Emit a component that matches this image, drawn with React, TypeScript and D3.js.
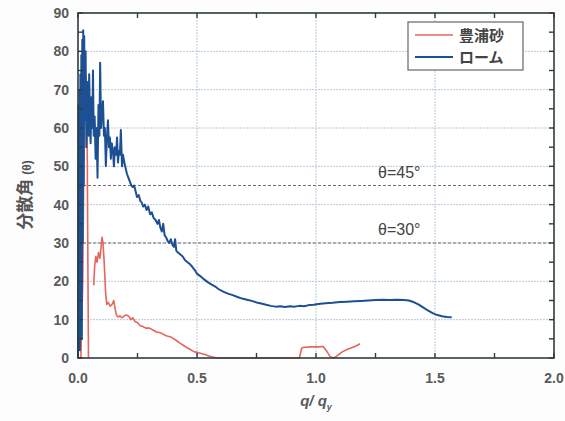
import React from "react";
import * as d3 from "d3";

const loamX = [0, 0.002, 0.004, 0.006, 0.008, 0.010, 0.012, 0.014, 0.016, 0.018, 0.020, 0.022, 0.024, 0.026, 0.029, 0.032, 0.035, 0.038, 0.041, 0.044, 0.047, 0.050, 0.053, 0.056, 0.060, 0.063, 0.066, 0.070, 0.074, 0.078, 0.082, 0.086, 0.090, 0.093, 0.097, 0.101, 0.105, 0.109, 0.113, 0.117, 0.121, 0.126, 0.130, 0.134, 0.138, 0.142, 0.147, 0.151, 0.155, 0.160, 0.164, 0.168, 0.172, 0.176, 0.180, 0.185, 0.189, 0.193, 0.198, 0.202, 0.206, 0.212, 0.218, 0.224, 0.230, 0.236, 0.242, 0.248, 0.255, 0.262, 0.268, 0.274, 0.281, 0.288, 0.295, 0.303, 0.310, 0.318, 0.326, 0.334, 0.340, 0.346, 0.352, 0.358, 0.364, 0.370, 0.377, 0.383, 0.390, 0.397, 0.403, 0.408, 0.413, 0.420, 0.430, 0.440, 0.450, 0.460, 0.470, 0.480, 0.490, 0.500, 0.515, 0.530, 0.545, 0.560, 0.575, 0.590, 0.610, 0.630, 0.650, 0.670, 0.690, 0.710, 0.730, 0.750, 0.770, 0.790, 0.810, 0.830, 0.850, 0.870, 0.890, 0.910, 0.930, 0.950, 0.970, 0.990, 1.010, 1.040, 1.070, 1.100, 1.130, 1.160, 1.190, 1.220, 1.250, 1.280, 1.310, 1.340, 1.370, 1.390, 1.410, 1.430, 1.450, 1.470, 1.490, 1.510, 1.530, 1.550, 1.570];
const loamY = [0, 66, 4, 70, 2, 74, 8, 79, 5, 83, 30, 85.5, 45, 84, 62, 80, 55, 66, 72, 58, 74, 62, 56, 68, 60, 75, 58, 63, 52, 60, 47, 66, 58, 77, 60, 64, 67, 58, 60, 50, 57, 62, 55, 57.5, 52, 56, 54, 50, 55, 53, 57.5, 51, 54, 53, 59.5, 50, 53, 51.6, 50, 49, 48, 47, 46, 45, 44.6, 45, 43.5, 42, 42.5, 41, 40.5, 39.5, 40, 38.6, 39.5, 37.5, 38, 36.5, 36, 35, 36, 34, 33, 35, 32, 31.5, 30.5, 30, 31, 29.5, 29, 31, 28, 27.5, 27, 26.5, 25.5, 25, 24.5, 23.8, 23, 22, 21.3, 20.5, 19.8, 19.2, 18.7, 18, 17.3, 16.8, 16.4, 15.9, 15.5, 15.2, 14.9, 14.5, 14.2, 13.9, 13.6, 13.4, 13.5, 13.3, 13.5, 13.4, 13.6, 13.5, 13.8, 13.9, 14.1, 14.3, 14.4, 14.6, 14.7, 14.8, 14.9, 15, 15.1, 15.2, 15.1, 15.2, 15.1, 15, 14.6, 14, 13.2, 12.4, 11.7, 11.2, 10.9, 10.7, 10.6];

const sandX = [0, 0.012, 0.020, 0.026, 0.030, 0.034, 0.038, 0.041, 0.044, NaN, 0.066, 0.070, 0.075, 0.080, 0.086, 0.092, 0.097, 0.101, 0.105, 0.110, 0.116, 0.121, 0.127, 0.135, 0.143, 0.150, 0.157, 0.163, 0.170, 0.176, 0.185, 0.195, 0.205, 0.215, 0.222, 0.230, 0.240, 0.250, 0.260, 0.272, 0.285, 0.300, 0.315, 0.330, 0.350, 0.370, 0.390, 0.410, 0.430, 0.450, 0.470, 0.490, 0.510, 0.530, 0.550, 0.570, 0.590, 0.620, 0.660, 0.700, 0.750, 0.800, 0.850, 0.900, 0.930, 0.940, 0.950, 0.980, 1.010, 1.030, 1.045, 1.060, 1.075, 1.090, 1.110, 1.130, 1.150, 1.170, 1.185];
const sandY = [0, 0, 20, 60, 74, 73, 64, 30, 0, NaN, 19, 24, 26.5, 25, 27.5, 26, 29, 31.5, 30, 25, 17, 14, 14.5, 13.5, 14, 15, 12.5, 11, 10.7, 11, 10.5, 11, 11.2, 10.8, 10, 10.5, 9.5, 9.2, 8.5, 8.2, 7.8, 7.8, 7.3, 6.8, 6.5, 5.8, 5.5, 4.7, 3.8, 3, 2.3, 1.6, 1.3, 1, 0.5, 0.2, 0, 0, 0, 0, 0, 0, 0, 0, 0, 2.6, 2.8, 2.9, 2.9, 3, 1.8, 0.3, 0, 0.6, 1.6, 2.2, 2.7, 3.2, 3.7];

const xTicks = [0, 0.5, 1.0, 1.5, 2.0];
const yTicks = [0, 10, 20, 30, 40, 50, 60, 70, 80, 90];
const thetaLines = [45, 30];
const legendLabels = ["豊浦砂", "ローム"];
const seriesColors = ["#e4665c", "#1d4f93"];

export default function App() {
  const W = 565, H = 421;
  const x = d3.scaleLinear().domain([0, 2]).range([78, 554]);
  const y = d3.scaleLinear().domain([0, 90]).range([358, 13]);

  const loam = loamX.map((v, i) => [v, loamY[i]] as [number, number]);
  const sand = sandX.map((v, i) => [v, sandY[i]] as [number, number]);
  const line = d3
    .line<[number, number]>()
    .defined((d) => !isNaN(d[0]) && !isNaN(d[1]))
    .x((d) => x(d[0]))
    .y((d) => y(d[1]));

  const minorX = d3.range(0, 2.0001, 0.25);
  const minorY = d3.range(0, 90.0001, 5);
  const tickFont = "'Liberation Sans', Arial, sans-serif";

  return (
    <svg width={W} height={H} style={{ position: "absolute", left: 0, top: 0, background: "#fff" }}>
      <rect x={0} y={0} width={W} height={H} fill="#fdfdfd" />
      <rect x={x(0)} y={y(90)} width={x(2) - x(0)} height={y(0) - y(90)} fill="#fff" />
      {/* grid */}
      {xTicks.slice(1, -1).map((t) => (
        <line key={"gx" + t} x1={x(t)} x2={x(t)} y1={y(0)} y2={y(90)} stroke="#b9c9d6" strokeWidth={1} strokeDasharray="2,1" />
      ))}
      {yTicks.slice(1, -1).map((t) => (
        <line key={"gy" + t} x1={x(0)} x2={x(2)} y1={y(t)} y2={y(t)} stroke="#b9c9d6" strokeWidth={1} strokeDasharray="2,1" />
      ))}
      {thetaLines.map((t) => (
        <line key={"th" + t} x1={x(0)} x2={x(2)} y1={y(t)} y2={y(t)} stroke="#6f6f6f" strokeWidth={1} strokeDasharray="3,2" />
      ))}
      {thetaLines.map((t) => (
        <text key={"tt" + t} x={x(1.35)} y={y(t) - 8} fontFamily={tickFont} fontSize={16} fill="#444" textAnchor="middle">
          {"θ=" + t + "°"}
        </text>
      ))}
      {/* series */}
      <path d={line(sand) || ""} fill="none" stroke={seriesColors[0]} strokeWidth={1.6} strokeLinejoin="round" />
      <path d={line(loam) || ""} fill="none" stroke={seriesColors[1]} strokeWidth={2} strokeLinejoin="round" />
      {/* frame */}
      <rect x={x(0)} y={y(90)} width={x(2) - x(0)} height={y(0) - y(90)} fill="none" stroke="#2e3b40" strokeWidth={1.6} />
      {/* minor ticks */}
      {minorX.map((t) => (
        <g key={"tx" + t}>
          <line x1={x(t)} x2={x(t)} y1={y(0)} y2={y(0) - 5} stroke="#2e3b40" strokeWidth={1.4} />
          <line x1={x(t)} x2={x(t)} y1={y(90)} y2={y(90) + 5} stroke="#2e3b40" strokeWidth={1.4} />
        </g>
      ))}
      {minorY.map((t) => (
        <g key={"ty" + t}>
          <line x1={x(0)} x2={x(0) + 5} y1={y(t)} y2={y(t)} stroke="#2e3b40" strokeWidth={1.4} />
          <line x1={x(2)} x2={x(2) - 5} y1={y(t)} y2={y(t)} stroke="#2e3b40" strokeWidth={1.4} />
        </g>
      ))}
      {/* tick labels */}
      {xTicks.map((t) => (
        <text key={"lx" + t} x={x(t)} y={383} textAnchor="middle" fontFamily={tickFont} fontSize={14} fontWeight="bold" fill="#5a5a5a">
          {t.toFixed(1)}
        </text>
      ))}
      {yTicks.map((t) => (
        <text key={"ly" + t} x={69} y={y(t) + 5} textAnchor="end" fontFamily={tickFont} fontSize={14} fontWeight="bold" fill="#5a5a5a">
          {t}
        </text>
      ))}
      {/* axis titles */}
      <text x={316} y={406} textAnchor="middle" fontFamily={tickFont} fontSize={15} fontStyle="italic" fontWeight="bold" fill="#5a5a5a">
        q/ q<tspan fontSize={9} dy={4}>y</tspan>
      </text>
      <text
        transform={`translate(31,${195}) rotate(-90)`}
        textAnchor="middle"
        fontFamily="'Noto Sans CJK JP', sans-serif"
        fontSize={17}
        fontWeight="bold"
        fill="#555"
      >
        分散角 <tspan fontSize={12} fontFamily={tickFont}>(θ)</tspan>
      </text>
      {/* legend */}
      <rect x={408} y={22} width={115} height={48} fill="#fff" stroke="#666" strokeWidth={1.2} />
      {legendLabels.map((l, i) => (
        <g key={l}>
          <line x1={415} x2={453} y1={35 + i * 22} y2={35 + i * 22} stroke={seriesColors[i]} strokeWidth={i === 0 ? 1.3 : 2} />
          <text x={459} y={40.5 + i * 22} fontFamily="'Noto Sans CJK JP', sans-serif" fontSize={15} fontWeight="bold" fill="#444">
            {l}
          </text>
        </g>
      ))}
    </svg>
  );
}
